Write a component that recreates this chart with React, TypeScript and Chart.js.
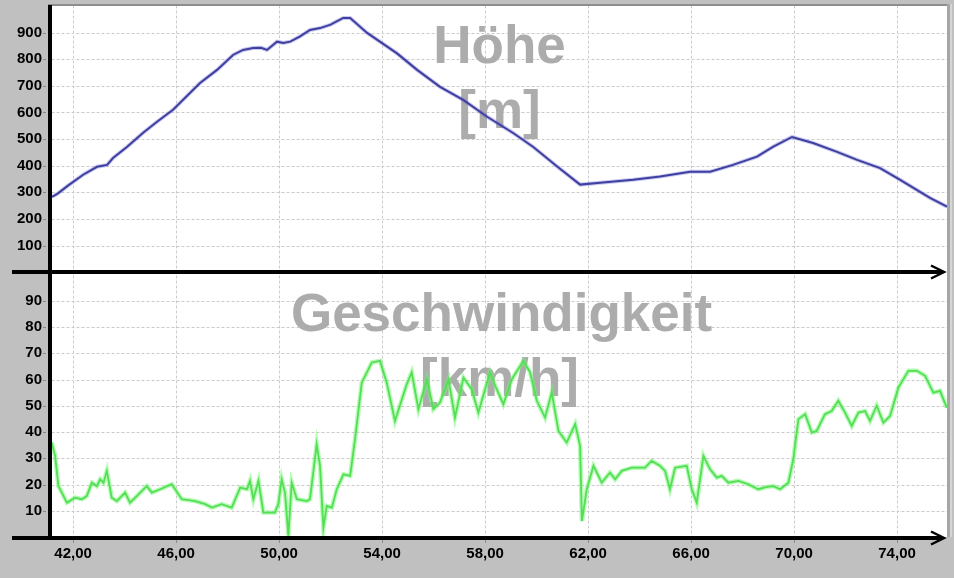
import { useEffect, useRef } from 'react';
import { Chart, registerables } from 'chart.js';

Chart.register(...registerables);

// ---- data ----
const elevKm = [41.18, 41.40, 41.80, 42.39, 42.93, 43.32, 43.55, 44.10, 44.72, 45.26, 45.88, 46.93, 47.59, 48.21, 48.60, 48.99, 49.30, 49.53, 49.92, 50.16, 50.43, 50.80, 51.20, 51.59, 52.00, 52.49, 52.76, 53.42, 54.58, 55.36, 56.25, 57.15, 58.08, 59.09, 59.86, 60.80, 61.69, 62.47, 63.75, 64.80, 65.96, 66.74, 67.63, 68.56, 69.18, 69.92, 70.74, 71.67, 72.45, 73.34, 74.12, 75.28, 75.94];
const elevM = [283, 295, 325, 366, 396, 403, 429, 471, 524, 565, 610, 711, 760, 816, 835, 842, 843, 835, 866, 861, 866, 885, 910, 917, 930, 955, 955, 899, 822, 760, 696, 647, 584, 523, 471, 397, 329, 336, 347, 359, 377, 377, 403, 434, 471, 508, 485, 452, 422, 391, 347, 279, 246];

const speedKm = [41.17, 41.30, 41.43, 41.76, 42.08, 42.34, 42.53, 42.73, 42.92, 43.05,
  43.18, 43.31, 43.50, 43.70, 44.02, 44.21, 44.47, 44.86, 45.06, 45.38,
  45.83, 46.22, 46.74, 47.13, 47.39, 47.77, 48.16, 48.49, 48.75, 48.87,
  49.00, 49.20, 49.39, 49.84, 49.97, 50.10, 50.23, 50.36, 50.49, 50.69,
  51.08, 51.20, 51.46, 51.59, 51.72, 51.85, 52.05, 52.24, 52.50, 52.76,
  52.95, 53.21, 53.60, 53.92, 54.18, 54.50, 54.95, 55.15, 55.41, 55.74,
  55.99, 56.25, 56.58, 56.83, 57.16, 57.48, 57.74, 58.19, 58.45, 58.71,
  59.04, 59.49, 59.75, 60.01, 60.33, 60.59, 60.85, 61.17, 61.50, 61.69,
  61.76, 61.95, 62.21, 62.53, 62.85, 63.05, 63.31, 63.70, 64.21, 64.47,
  64.80, 64.99, 65.18, 65.38, 65.83, 66.03, 66.22, 66.48, 66.74, 67.00,
  67.19, 67.45, 67.84, 68.22, 68.61, 68.90, 69.20, 69.46, 69.78, 69.97,
  70.17, 70.43, 70.69, 70.88, 71.20, 71.46, 71.72, 71.98, 72.24, 72.50,
  72.76, 72.95, 73.21, 73.47, 73.73, 74.05, 74.44, 74.77, 75.09, 75.41,
  75.67, 75.93];
const speedKmh = [36.0, 30.9, 19.4, 13.1, 15.0, 14.4, 15.6, 20.7, 19.4, 22.0,
  20.7, 25.2, 15.0, 13.7, 16.9, 13.1, 15.6, 19.4, 16.9, 18.2,
  20.1, 14.4, 13.7, 12.5, 11.2, 12.5, 11.2, 18.8, 18.2, 21.4,
  14.4, 21.4, 9.3, 9.3, 12.5, 22.0, 16.9, 0.5, 20.7, 14.4,
  13.7, 14.4, 35.3, 27.1, 3.5, 11.8, 11.2, 18.2, 23.9, 23.3,
  37.3, 58.8, 66.5, 67.1, 58.8, 44.2, 58.0, 62.7, 48.7, 60.1,
  48.7, 51.2, 60.1, 45.5, 60.7, 56.3, 47.4, 62.7, 56.3, 50.6,
  60.1, 67.1, 62.7, 51.9, 45.5, 55.0, 40.4, 36.0, 43.0, 34.7,
  6.1, 18.2, 27.1, 20.7, 24.5, 22.0, 25.2, 26.4, 26.4, 29.0,
  27.1, 25.2, 18.2, 26.4, 27.1, 18.2, 13.1, 30.9, 25.8, 22.6,
  23.3, 20.7, 21.4, 20.1, 18.2, 19.0, 19.4, 18.2, 20.7, 29.6,
  44.9, 46.8, 39.8, 40.4, 46.8, 48.0, 51.9, 47.4, 42.3, 47.4,
  48.0, 44.2, 50.0, 43.6, 46.1, 56.9, 63.3, 63.3, 61.4, 55.0,
  55.7, 49.3];

const xTicks = [42, 46, 50, 54, 58, 62, 66, 70, 74];
const elevTicks = [100, 200, 300, 400, 500, 600, 700, 800, 900];
const speedTicks = [10, 20, 30, 40, 50, 60, 70, 80, 90];
const topTitle = ['Höhe', '[m]'];
const bottomTitle = ['Geschwindigkeit', '[km/h]'];

const FONT = '"Liberation Sans", Arial, sans-serif';

export default function App() {
  const ref = useRef<HTMLCanvasElement>(null);

  useEffect(() => {
    const elevPts = elevKm.map((x, i) => ({ x, y: elevM[i] }));
    const speedPts = speedKm.map((x, i) => ({ x, y: speedKmh[i] }));

    const deco = {
      id: 'deco',
      afterLayout(chart: any) {
        const yt = chart.scales.yTop, yb = chart.scales.yBot;
        yb.left = yt.left;
        yb.right = yt.right;
        yb.width = yt.width;
        yb._labelItems = null;
        yt._labelItems = null;
      },
      beforeDraw(chart: any) {
        const { ctx, chartArea: a, width, height } = chart;
        ctx.save();
        ctx.fillStyle = '#c0c0c0';
        ctx.fillRect(0, 0, width, height);
        ctx.fillStyle = '#ffffff';
        ctx.fillRect(a.left, a.top, a.right - a.left, a.bottom - a.top);
        // top bevel
        ctx.fillStyle = '#8e8e8e';
        ctx.fillRect(a.left - 4, a.top - 2, a.right - a.left + 6, 2);
        // right bevel
        ctx.fillStyle = '#a6a6a6';
        ctx.fillRect(a.right, a.top - 2, 3, a.bottom - a.top + 2);
        ctx.fillStyle = '#d6d6d6';
        ctx.fillRect(a.right + 3, a.top - 2, 2, a.bottom - a.top + 2);
        ctx.restore();
      },
      beforeDatasetsDraw(chart: any) {
        const { ctx, chartArea: a, scales } = chart;
        const xs = scales.x, yt = scales.yTop, yb = scales.yBot;
        ctx.save();
        ctx.lineWidth = 1;
        const hline = (y: number) => {
          ctx.strokeStyle = '#f0f0f0';
          ctx.setLineDash([]);
          ctx.beginPath(); ctx.moveTo(a.left, y); ctx.lineTo(a.right, y); ctx.stroke();
          ctx.strokeStyle = '#c8c8c8';
          ctx.setLineDash([2, 3]);
          ctx.beginPath(); ctx.moveTo(a.left, y); ctx.lineTo(a.right, y); ctx.stroke();
        };
        elevTicks.forEach(v => hline(Math.round(yt.getPixelForValue(v)) + 0.5));
        speedTicks.forEach(v => hline(Math.round(yb.getPixelForValue(v)) + 0.5));
        xTicks.forEach(v => {
          const x = Math.round(xs.getPixelForValue(v)) + 0.5;
          ctx.strokeStyle = '#f0f0f0';
          ctx.setLineDash([]);
          ctx.beginPath(); ctx.moveTo(x, a.top); ctx.lineTo(x, a.bottom); ctx.stroke();
          ctx.strokeStyle = '#c8c8c8';
          ctx.setLineDash([2, 3]);
          ctx.beginPath(); ctx.moveTo(x, a.top); ctx.lineTo(x, a.bottom); ctx.stroke();
        });
        ctx.setLineDash([]);
        // watermark titles
        const cx = (a.left + a.right) / 2;
        ctx.fillStyle = '#acacac';
        ctx.font = `bold 53px ${FONT}`;
        ctx.textAlign = 'center';
        ctx.textBaseline = 'alphabetic';
        const t0 = yt.getPixelForValue(1000);
        ctx.fillText(topTitle[0], cx, t0 + 57);
        ctx.fillText(topTitle[1], cx, t0 + 122);
        const b0 = yb.getPixelForValue(100);
        ctx.fillText(bottomTitle[0], cx + 2, b0 + 56);
        ctx.fillText(bottomTitle[1], cx, b0 + 121);
        ctx.restore();
      },
      afterDatasetsDraw(chart: any) {
        const { ctx, chartArea: a, scales } = chart;
        const xs = scales.x, yt = scales.yTop, yb = scales.yBot;
        ctx.save();
        ctx.strokeStyle = '#000';
        ctx.fillStyle = '#000';
        // left vertical axis
        ctx.fillRect(a.left - 4, a.top - 1, 4, a.bottom - a.top + 4);
        const axis = (y: number) => {
          ctx.fillRect(12, y - 2, 930, 4);
          ctx.lineWidth = 2.5;
          ctx.beginPath();
          ctx.moveTo(931, y - 6.5);
          ctx.lineTo(944, y);
          ctx.lineTo(931, y + 6.5);
          ctx.stroke();
        };
        axis(Math.round(yt.getPixelForValue(0)));
        axis(Math.round(yb.getPixelForValue(0)) + 1);
        // small tick marks
        ctx.fillStyle = '#8a8a8a';
        elevTicks.forEach(v => ctx.fillRect(a.left - 9, Math.round(yt.getPixelForValue(v)), 3, 1));
        speedTicks.forEach(v => ctx.fillRect(a.left - 9, Math.round(yb.getPixelForValue(v)), 3, 1));
        xTicks.forEach(v => ctx.fillRect(Math.round(xs.getPixelForValue(v)), a.bottom + 3, 1, 3));
        ctx.restore();
      },
    };

    const tickFont = { family: FONT, size: 15, weight: 'bold' as const };
    const noGrid = { display: false, drawTicks: false, tickLength: 0 };

    const chart = new Chart(ref.current!, {
      type: 'scatter',
      data: {
        datasets: [
          { data: elevPts, yAxisID: 'yTop', showLine: true, pointRadius: 0, borderColor: 'rgba(100,100,210,0.35)', borderWidth: 4 },
          { data: elevPts, yAxisID: 'yTop', showLine: true, pointRadius: 0, borderColor: '#2b2b88', borderWidth: 2 },
          { data: speedPts, yAxisID: 'yBot', showLine: true, pointRadius: 0, borderColor: 'rgba(110,245,110,0.5)', borderWidth: 4.5 },
          { data: speedPts, yAxisID: 'yBot', showLine: true, pointRadius: 0, borderColor: '#38c838', borderWidth: 1.8 },
        ],
      },
      options: {
        animation: false,
        responsive: false,
        devicePixelRatio: 1,
        events: [],
        layout: { padding: { top: 6, right: 7, left: 0, bottom: 0 }, autoPadding: false },
        plugins: { legend: { display: false }, tooltip: { enabled: false }, title: { display: false } },
        scales: {
          x: {
            type: 'linear', position: 'bottom', min: 41.18, max: 75.94,
            afterBuildTicks: (s: any) => { s.ticks = xTicks.map(v => ({ value: v })); },
            afterFit: (s: any) => { s.height = 41; s.paddingLeft = 0; s.paddingRight = 0; },
            ticks: { color: '#000', font: tickFont, padding: 8, maxRotation: 0, autoSkip: false, callback: (v: any) => Number(v).toFixed(2).replace('.', ',') },
            grid: noGrid, border: { display: false },
          },
          yTop: {
            type: 'linear', position: 'left', weight: 1, min: -995, max: 1000,
            afterBuildTicks: (s: any) => { s.ticks = elevTicks.map(v => ({ value: v })); },
            afterFit: (s: any) => { s.width = 52; s.paddingTop = 0; s.paddingBottom = 0; },
            ticks: { color: '#000', font: tickFont, padding: 10, autoSkip: false, callback: (v: any) => String(v) },
            grid: noGrid, border: { display: false },
          },
          yBot: {
            type: 'linear', position: 'left', weight: 0, min: 0, max: 202.3,
            afterBuildTicks: (s: any) => { s.ticks = speedTicks.map(v => ({ value: v })); },
            afterFit: (s: any) => { s.width = 0; s.paddingTop = 0; s.paddingBottom = 0; },
            ticks: { color: '#000', font: tickFont, padding: 10, autoSkip: false, callback: (v: any) => String(v) },
            grid: noGrid, border: { display: false },
          },
        },
      } as any,
      plugins: [deco],
    });
    return () => chart.destroy();
  }, []);

  return (
    <div style={{ position: 'fixed', left: 0, top: 0, width: 954, height: 578, background: '#c0c0c0' }}>
      <canvas ref={ref} width={954} height={578} style={{ display: 'block', width: 954, height: 578 }} />
    </div>
  );
}
